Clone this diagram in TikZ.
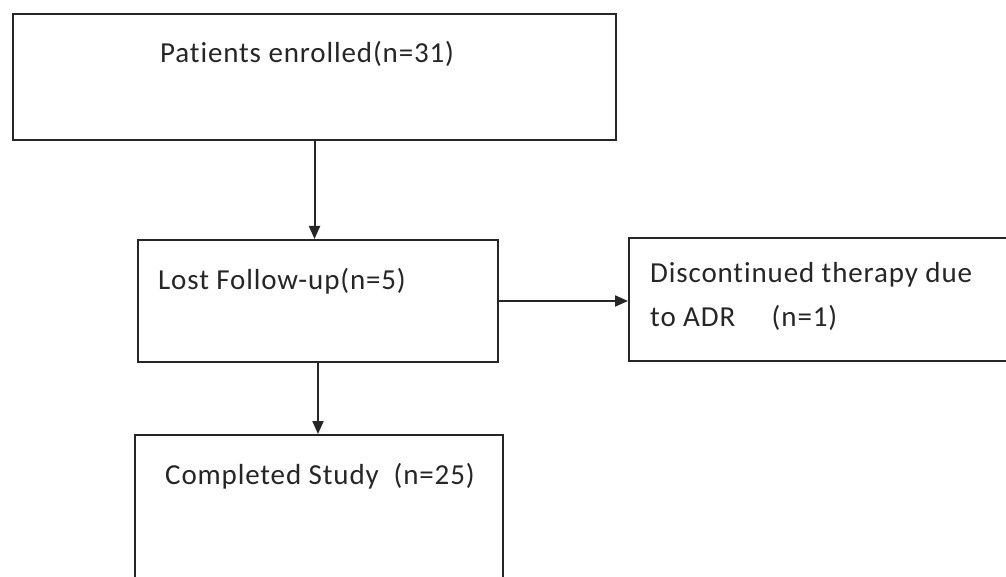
\documentclass[tikz,border=0pt]{standalone}
\usepackage{fontspec}
\setmainfont[Ligatures=NoCommon,LetterSpace=3]{Carlito}
\usetikzlibrary{arrows.meta}
\definecolor{ink}{HTML}{262626}
\begin{document}
\begin{tikzpicture}[x=1pt,y=-1pt,
  boxstyle/.style={draw=ink,line width=2pt,rectangle,anchor=north west,inner sep=0pt},
  lbl/.style={anchor=base west,inner sep=0pt,text=ink,font=\fontsize{29}{43}\selectfont},
  conn/.style={draw=ink,line width=2pt,-{Triangle[length=13pt,width=11pt]}}]
\useasboundingbox (0,0) rectangle (1006,577);
\clip (0,0) rectangle (1006,577);
\fill[white] (0,0) rectangle (1006,577);
\node[boxstyle,minimum width=603pt,minimum height=126pt] (box1) at (12,13) {};
\node[boxstyle,minimum width=360pt,minimum height=122pt] (box2) at (137,239) {};
\node[boxstyle,minimum width=384pt,minimum height=123pt] (box3) at (628,237) {};
\node[boxstyle,minimum width=368pt,minimum height=170pt] (box4) at (134,434) {};
\node[lbl] (t1) at (160,63) {Patients enrolled(n=31)};
\node[lbl] (t2) at (158,290) {Lost Follow-up(n=5)};
\node[lbl] (t3a) at (650,283) {Discontinued therapy due};
\node[lbl] (t3b) at (650,326) {to ADR\quad\ (n=1)};
\node[lbl] (t4) at (165,484) {Completed Study\ \ (n=25)};
\draw[conn] (box1.south) -- (box1.south |- box2.north);
\draw[conn] (box2.east) -- (box2.east -| box3.west);
\draw[conn] (box2.south) -- (box2.south |- box4.north);
\end{tikzpicture}
\end{document}
